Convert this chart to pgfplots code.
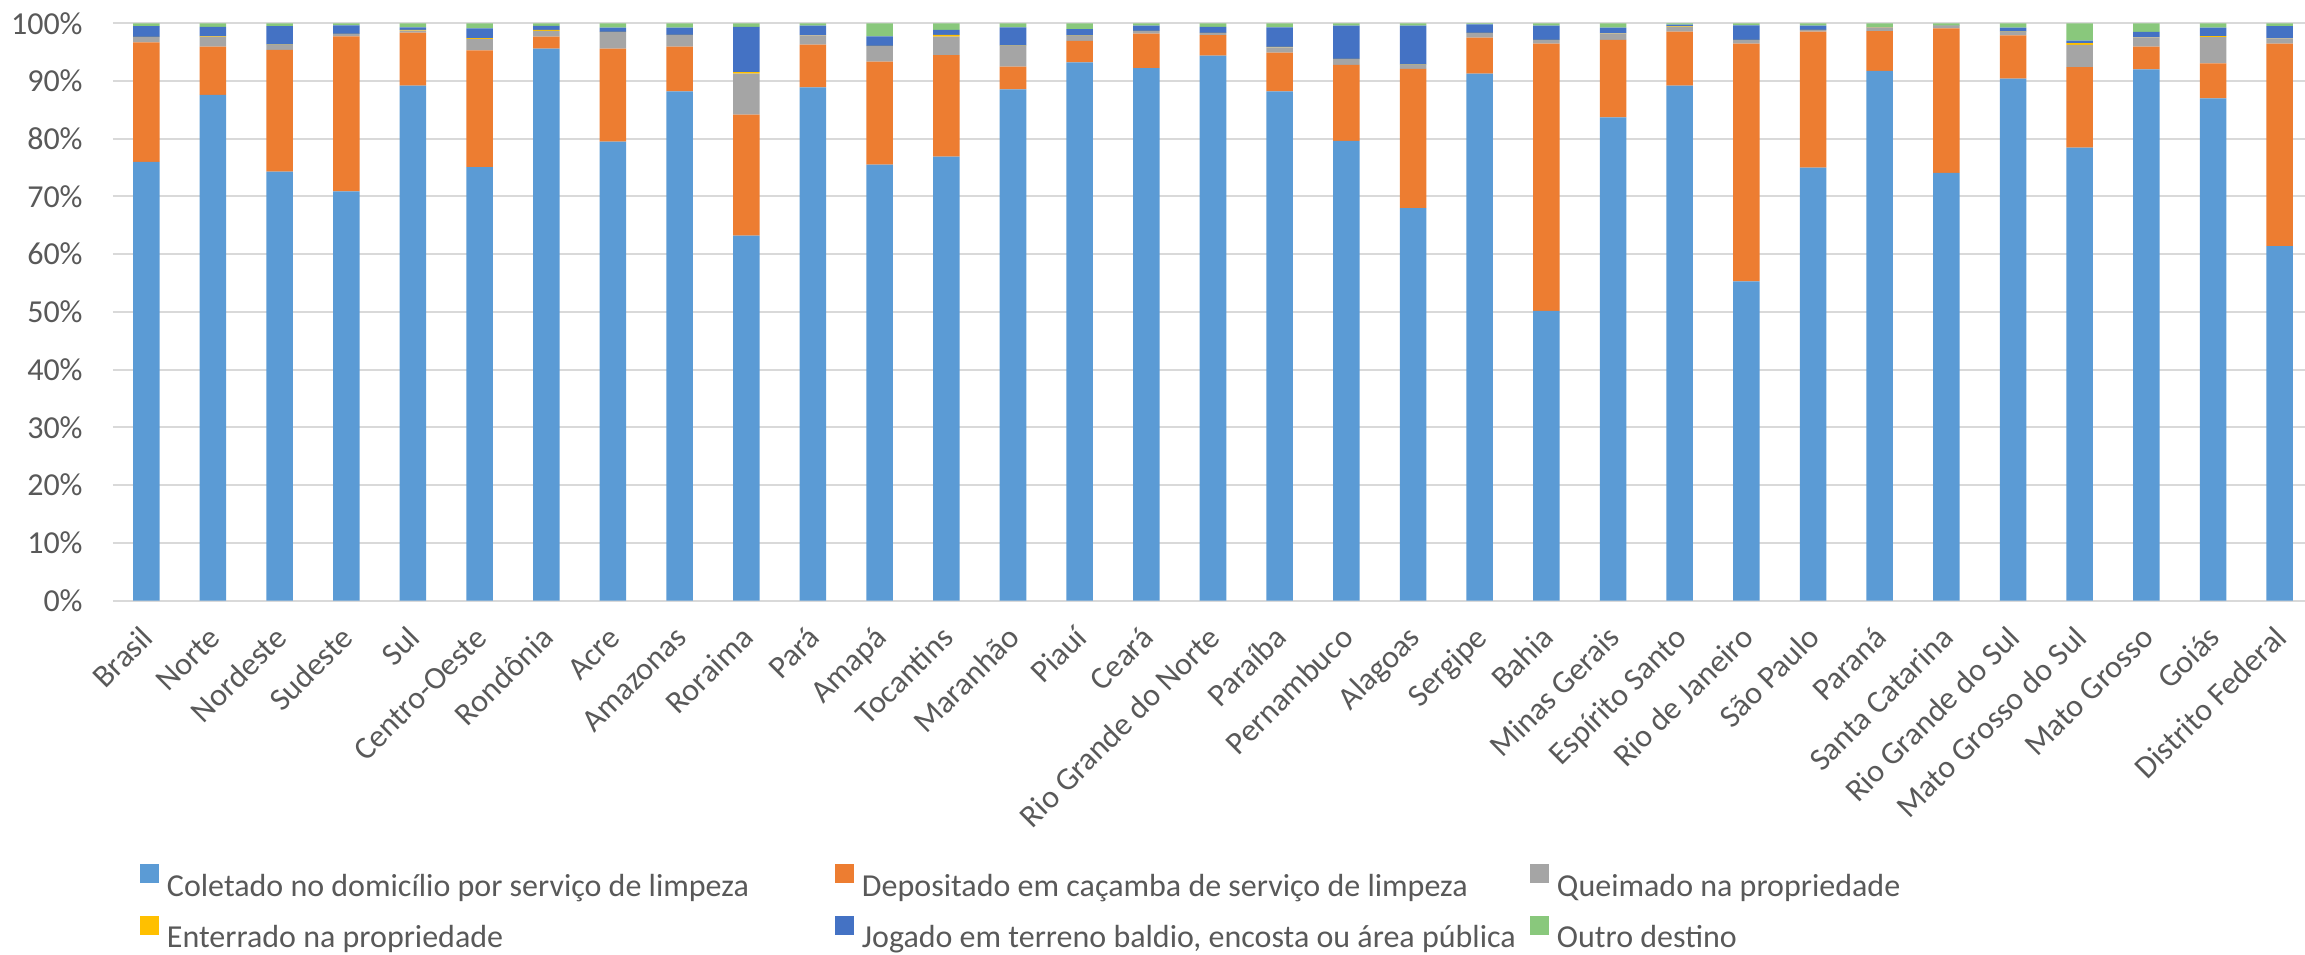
\documentclass[border=0pt]{standalone}
\usepackage{pgfplots}
\usepackage{pgfplotstable}
\usepackage{fontspec}
\setmainfont{Carlito}
\pgfplotsset{compat=1.18}

\definecolor{cColetado}{HTML}{5B9BD5}
\definecolor{cDepositado}{HTML}{ED7D31}
\definecolor{cQueimado}{HTML}{A5A5A5}
\definecolor{cEnterrado}{HTML}{FFC000}
\definecolor{cJogado}{HTML}{4472C4}
\definecolor{cOutro}{RGB}{137,200,124}
\definecolor{gridgray}{HTML}{D9D9D9}
\definecolor{labelgray}{HTML}{595959}

% share (%) of households by destination of the garbage
\pgfplotstableread{
C      D      Q     E     J     O
76.0   20.7   0.9   0.05  1.85  0.5
87.6   8.35   1.7   0.1   1.65  0.6
74.3   21.1   0.85  0.05  3.2   0.5
70.9   26.85  0.4   0.02  1.48  0.35
89.2   9.2    0.35  0.1   0.45  0.7
75.1   20.2   2.0   0.15  1.65  0.9
95.6   2.1    1.0   0.15  0.7   0.45
79.5   16.1   2.85  0.05  0.75  0.75
88.2   7.75   2.0   0.05  1.25  0.75
63.2   21.0   7.1   0.25  7.85  0.6
88.9   7.4    1.6   0.05  1.65  0.4
75.5   17.85  2.7   0.05  1.65  2.25
76.9   17.6   3.2   0.3   0.85  1.15
88.55  3.95   3.6   0.05  3.15  0.7
93.25  3.7    0.85  0.05  1.15  1.0
92.25  5.95   0.45  0.05  0.9   0.4
94.4   3.55   0.35  0.05  1.05  0.6
88.2   6.7    0.95  0.05  3.4   0.7
79.65  13.15  1.0   0.05  5.75  0.4
68.0   24.1   0.7   0.05  6.75  0.4
91.3   6.2    0.8   0.05  1.45  0.2
50.2   46.3   0.6   0.05  2.45  0.4
83.7   13.45  1.05  0.05  1.0   0.75
89.2   9.35   0.85  0.05  0.3   0.25
55.3   41.2   0.6   0.05  2.5   0.35
75.0   23.55  0.25  0.05  0.75  0.4
91.75  6.9    0.6   0.05  0.05  0.65
74.1   25.0   0.45  0.02  0.03  0.4
90.4   7.5    0.6   0.05  0.7   0.75
78.45  13.95  3.85  0.3   0.45  3.0
92.0   3.95   1.6   0.05  0.9   1.5
87.0   6.05   4.55  0.2   1.45  0.75
61.4   35.1   0.9   0.05  2.05  0.5
}\destino

\newcommand{\legtext}[1]{\makebox[338pt][l]{\hspace{4pt}\strut #1}}

\begin{document}
\begin{tikzpicture}
\begin{axis}[
  at={(0pt,0pt)}, anchor=south west,
  scale only axis, width=1100pt, height=288.6pt,
  ybar stacked, bar width=13.25pt,
  xmin=-0.5, xmax=32.5, ymin=0, ymax=100,
  axis x line*=bottom, axis y line*=left,
  x axis line style={draw=gridgray, line width=1pt, -},
  y axis line style={draw=none},
  major tick length=0pt, tick style={draw=none},
  ymajorgrids, grid style={draw=gridgray, line width=1pt},
  xtick={0,...,32},
  xticklabels={Brasil, Norte, Nordeste, Sudeste, Sul, Centro-Oeste, Rondônia, Acre, Amazonas, Roraima, Pará, Amapá, Tocantins, Maranhão, Piauí, Ceará, Rio Grande do Norte, Paraíba, Pernambuco, Alagoas, Sergipe, Bahia, Minas Gerais, Espírito Santo, Rio de Janeiro, São Paulo, Paraná, Santa Catarina, Rio Grande do Sul, Mato Grosso do Sul, Mato Grosso, Goiás, Distrito Federal},
  ytick={0,10,...,100},
  yticklabels={0\%,10\%,20\%,30\%,40\%,50\%,60\%,70\%,80\%,90\%,100\%},
  tick label style={font=\fontsize{16}{19}\selectfont, text=labelgray},
  xticklabel style={rotate=45, anchor=east, inner sep=0pt, text height=11.2pt, text depth=3.2pt, xshift=-10.6pt, yshift=-13pt},
  yticklabel style={anchor=east, inner sep=0pt, xshift=-15pt},
  legend columns=3,
  legend style={at={(0.01227,-0.4570)}, anchor=north west, draw=none, fill=none,
    inner sep=0pt, outer sep=0pt, row sep=8.5pt, column sep=0pt,
    font=\fontsize{16}{19}\selectfont, text=labelgray, nodes={inner sep=0pt}},
  legend image code/.code={\fill[#1] (0pt,0.5pt) rectangle (9.5pt,10pt);},
]
\addplot[fill=cColetado, draw=none] table[x expr=\coordindex, y=C]{\destino};
\addlegendentry{\legtext{Coletado no domicílio por serviço de limpeza}}
\addplot[fill=cDepositado, draw=none] table[x expr=\coordindex, y=D]{\destino};
\addlegendentry{\legtext{Depositado em caçamba de serviço de limpeza}}
\addplot[fill=cQueimado, draw=none] table[x expr=\coordindex, y=Q]{\destino};
\addlegendentry{\legtext{Queimado na propriedade}}
\addplot[fill=cEnterrado, draw=none] table[x expr=\coordindex, y=E]{\destino};
\addlegendentry{\legtext{Enterrado na propriedade}}
\addplot[fill=cJogado, draw=none] table[x expr=\coordindex, y=J]{\destino};
\addlegendentry{\legtext{Jogado em terreno baldio, encosta ou área pública}}
\addplot[fill=cOutro, draw=none] table[x expr=\coordindex, y=O]{\destino};
\addlegendentry{\legtext{Outro destino}}
\end{axis}
\pgfresetboundingbox
\useasboundingbox (-56.5pt,-176.75pt) rectangle (1096pt,300.25pt);
\end{tikzpicture}
\end{document}
